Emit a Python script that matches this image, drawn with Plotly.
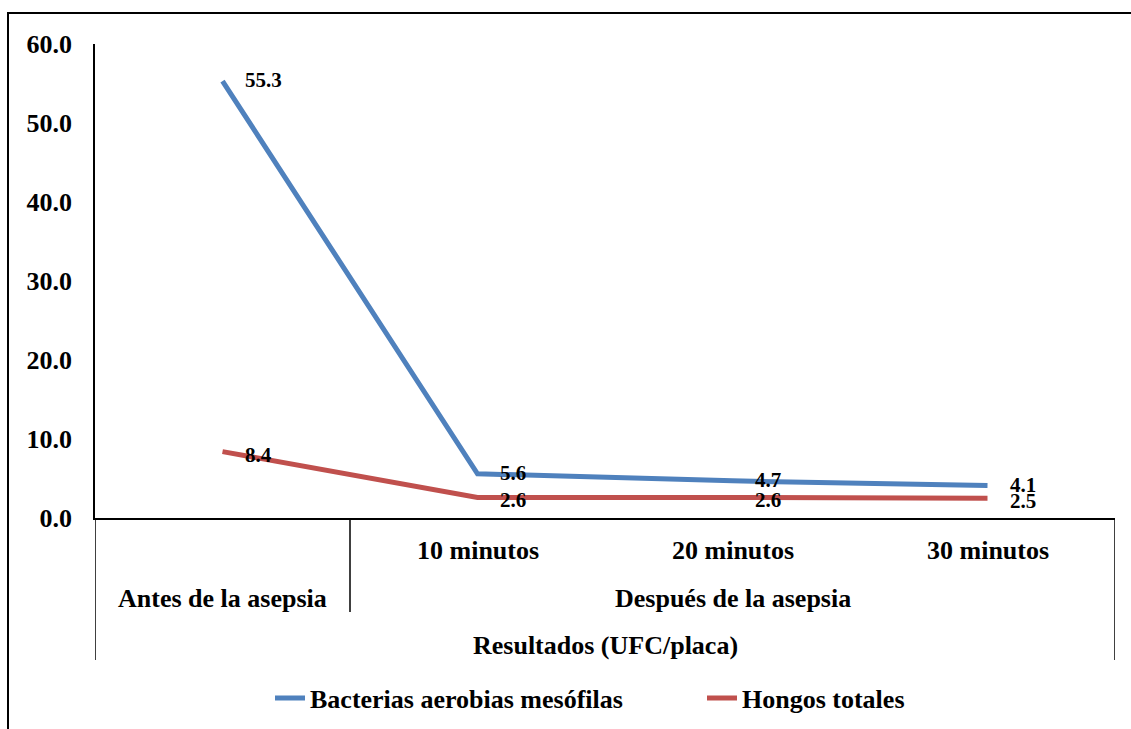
import plotly.graph_objects as go

# ---- data ----
categorias = ["Antes de la asepsia", "10 minutos", "20 minutos", "30 minutos"]
etiquetas_nivel1 = ["", "10 minutos", "20 minutos", "30 minutos"]
grupos = ["Antes de la asepsia", "Después de la asepsia"]
titulo_eje = "Resultados (UFC/placa)"
bacterias = [55.3, 5.6, 4.7, 4.1]
hongos = [8.4, 2.6, 2.6, 2.5]
serie_nombres = ["Bacterias aerobias mesófilas", "Hongos totales"]
yticks = [0, 10, 20, 30, 40, 50, 60]

# ---- layout geometry ----
W, H = 1131, 729
L, R, T, B = 95, 16, 44, 211
PW, PH = W - L - R, H - T - B
FONT = "Liberation Serif, Times New Roman, serif"
BLUE = "#4F81BD"
RED = "#C0504D"


def px(x):
    return (x - L) / PW


def py(y):
    return (H - B - y) / PH


fig = go.Figure()
for i, (nombre, vals, col) in enumerate([(serie_nombres[0], bacterias, BLUE),
                                         (serie_nombres[1], hongos, RED)]):
    fig.add_trace(go.Scatter(
        x=categorias, y=vals, mode="lines", name=f"<b>{nombre}</b>",
        legend="legend" if i == 0 else "legend2",
        line=dict(color=col, width=5), cliponaxis=False, hoverinfo="skip"))

annotations = []
# data labels
for vals, ys in ((bacterias, 1), (hongos, -3)):
    for c, v in zip(categorias, vals):
        annotations.append(dict(
            x=c, y=v, xref="x", yref="y", text=f"<b>{v:.1f}</b>", showarrow=False,
            xanchor="left", yanchor="middle", xshift=20, yshift=ys,
            font=dict(family=FONT, size=21, color="black")))

# category labels (level 1)
for c, t in zip(categorias, etiquetas_nivel1):
    if t:
        annotations.append(dict(
            x=c, y=py(550), xref="x", yref="paper", text=f"<b>{t}</b>", showarrow=False,
            xanchor="center", yanchor="middle",
            font=dict(family=FONT, size=26, color="black")))

# group labels (level 2)
annotations.append(dict(
    x=0, y=py(598), xref="x", yref="paper", text=f"<b>{grupos[0]}</b>", showarrow=False,
    xanchor="center", yanchor="middle", font=dict(family=FONT, size=26, color="black")))
annotations.append(dict(
    x=2, y=py(598), xref="x", yref="paper", text=f"<b>{grupos[1]}</b>", showarrow=False,
    xanchor="center", yanchor="middle", font=dict(family=FONT, size=26, color="black")))
# axis title (level 3)
annotations.append(dict(
    x=1.5, y=py(645), xref="x", yref="paper", text=f"<b>{titulo_eje}</b>", showarrow=False,
    xanchor="center", yanchor="middle", font=dict(family=FONT, size=26, color="black")))

line_k = dict(color="black", width=1.5)
shapes = [
    # outer frame
    dict(type="line", xref="paper", yref="paper", x0=px(8), x1=px(8), y0=py(12), y1=py(740),
         line=dict(color="black", width=2)),
    dict(type="line", xref="paper", yref="paper", x0=px(7), x1=px(1140), y0=py(13), y1=py(13),
         line=dict(color="black", width=2)),
    # category axis grid
    dict(type="line", xref="x", yref="paper", x0=-0.5, x1=-0.5, y0=py(518), y1=py(660), line=line_k),
    dict(type="line", xref="x", yref="paper", x0=0.5, x1=0.5, y0=py(518), y1=py(612), line=line_k),
    dict(type="line", xref="x", yref="paper", x0=3.5, x1=3.5, y0=py(518), y1=py(660), line=line_k),
]

leg_common = dict(orientation="h", xanchor="left", y=py(698), yanchor="middle",
                  font=dict(family=FONT, size=26, color="black"),
                  itemwidth=30, bgcolor="rgba(0,0,0,0)")

fig.update_layout(
    width=W, height=H,
    margin=dict(l=L, r=R, t=T, b=B, autoexpand=False),
    paper_bgcolor="white", plot_bgcolor="white",
    font=dict(family=FONT, color="black"),
    showlegend=True,
    legend=dict(x=px(270), **leg_common),
    legend2=dict(x=px(702), **leg_common),
    xaxis=dict(type="category", range=[-0.5, 3.5], showticklabels=False, ticks="",
               showgrid=False, zeroline=False, showline=True, linecolor="black", linewidth=1.5,
               fixedrange=True),
    yaxis=dict(range=[0, 60], tickvals=yticks, ticktext=[f"<b>{v:.1f}</b>" for v in yticks],
               showgrid=False, zeroline=False, showline=True, linecolor="black", linewidth=1.5,
               ticks="", ticklabelstandoff=16, tickfont=dict(family=FONT, size=26, color="black"),
               fixedrange=True),
    annotations=annotations,
    shapes=shapes,
)

fig.write_html("out.html")
